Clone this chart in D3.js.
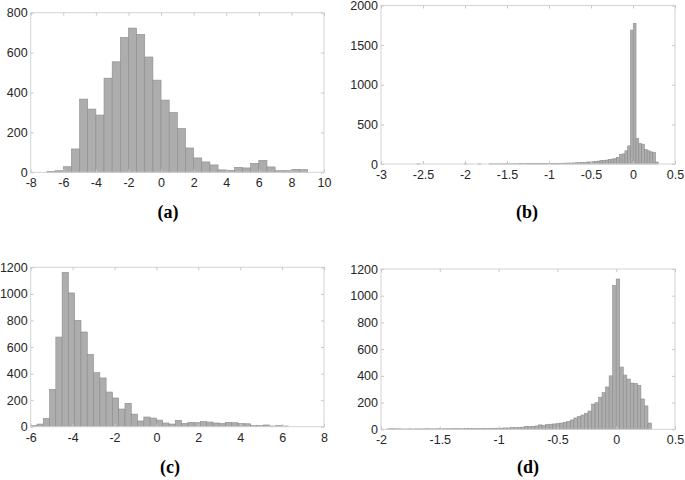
<!DOCTYPE html>
<html>
<head>
<meta charset="utf-8">
<script src="https://cdn.jsdelivr.net/npm/d3@7"></script>
<style>
  body { margin: 0; background: #fff; }
  svg { display: block; }
</style>
</head>
<body>
<svg width="685" height="480"></svg>
<script>
// (a) bins of 0.5 starting at -7
const aStart = -7, aWidth = 0.5;
const aCounts = [5, 8, 28, 117, 367, 317, 287, 472, 554, 676, 723, 691, 578, 462, 362, 300,
  220, 122, 72, 52, 37, 12, 10, 25, 22, 45, 60, 27, 8, 8, 15, 13];

// (b) bins of 0.033 starting at -3
const bStart = -3, bWidth = 0.033;
const bCounts = [0, 0, 0, 0, 0, 0, 0, 0, 0, 0, 0, 0, 0, 2, 0, 0, 0, 0, 0, 0,
  0, 0, 0, 0, 0, 0, 0, 0, 0, 0, 2, 0, 0, 0, 0, 2, 0, 0, 0, 2,
  1, 1, 2, 1, 2, 3, 2, 3, 3, 3, 4, 3, 4, 5, 4, 5, 5, 6, 5, 6,
  6, 7, 8, 8, 9, 10, 11, 12, 12, 13, 16, 17, 20, 21, 25, 25, 29, 33, 37, 42,
  45, 50, 58, 62, 67, 83, 121, 128, 167, 229, 1690, 1775, 321, 258, 250, 183, 167, 154, 148, 25];

// (c) bins of 0.3 starting at -6
const cStart = -6, cWidth = 0.3;
const cCounts = [8, 20, 63, 281, 675, 1162, 1007, 801, 713, 545, 407, 367, 261, 216, 133, 176,
  95, 43, 73, 65, 50, 28, 20, 48, 25, 33, 30, 40, 35, 28, 25, 33, 30, 25, 22, 8,
  8, 13, 5, 8, 5];

// (d) bins of 0.03 starting at -1.95
const dStart = -1.95, dWidth = 0.03;
const dCounts = [3, 4, 3, 3, 2, 2, 3, 2, 3, 3, 3, 4, 3, 3, 4, 3, 4, 4, 4, 5,
  4, 4, 5, 5, 5, 5, 5, 6, 6, 7, 8, 8, 9, 10, 10, 12, 12, 13, 16, 22,
  20, 22, 25, 33, 30, 35, 38, 40, 43, 47, 52, 60, 70, 85, 95, 107, 120, 137, 189, 199,
  240, 274, 317, 400, 1075, 1125, 466, 406, 376, 346, 344, 329, 227, 175, 47];

const aXTicks = [-8, -6, -4, -2, 0, 2, 4, 6, 8, 10];
const aYTicks = [0, 200, 400, 600, 800];
const bXTicks = [-3, -2.5, -2, -1.5, -1, -0.5, 0, 0.5];
const bYTicks = [0, 500, 1000, 1500, 2000];
const cXTicks = [-6, -4, -2, 0, 2, 4, 6, 8];
const cYTicks = [0, 200, 400, 600, 800, 1000, 1200];
const dXTicks = [-2, -1.5, -1, -0.5, 0, 0.5];
const dYTicks = [0, 200, 400, 600, 800, 1000, 1200];

const panelLabels = ["(a)", "(b)", "(c)", "(d)"];

const svg = d3.select("svg");

const panels = [
  {box: [30.7, 12.7, 324, 172.3], xd: [-8, 10], yd: [0, 800], xt: aXTicks, yt: aYTicks,
   start: aStart, width: aWidth, counts: aCounts, label: [168, 218]},
  {box: [381, 5.5, 675, 164], xd: [-3, 0.5], yd: [0, 2000], xt: bXTicks, yt: bYTicks,
   start: bStart, width: bWidth, counts: bCounts, label: [527, 218]},
  {box: [30.7, 267.3, 324, 426.7], xd: [-6, 8], yd: [0, 1200], xt: cXTicks, yt: cYTicks,
   start: cStart, width: cWidth, counts: cCounts, label: [170, 473]},
  {box: [381, 269, 675, 429.3], xd: [-2, 0.5], yd: [0, 1200], xt: dXTicks, yt: dYTicks,
   start: dStart, width: dWidth, counts: dCounts, label: [528, 473]}
];

const fmt = d => String(d);

panels.forEach((p, pi) => {
  const [x0, y0, x1, y1] = p.box;
  const x = d3.scaleLinear().domain(p.xd).range([x0, x1]);
  const y = d3.scaleLinear().domain(p.yd).range([y1, y0]);
  const g = svg.append("g");

  const bins = p.counts.map((c, i) => ({lo: p.start + i * p.width, hi: p.start + (i + 1) * p.width, c}));

  g.append("g").selectAll("rect")
    .data(bins.filter(b => b.c > 0))
    .join("rect")
      .attr("x", b => x(b.lo))
      .attr("width", b => x(b.hi) - x(b.lo))
      .attr("y", b => y(b.c))
      .attr("height", b => y(0) - y(b.c))
      .attr("fill", "#adadad")
      .attr("stroke", "#8c8c8c")
      .attr("stroke-width", 0.6);

  // box
  g.append("rect")
    .attr("x", x0).attr("y", y0)
    .attr("width", x1 - x0).attr("height", y1 - y0)
    .attr("fill", "none")
    .attr("stroke", "#d4d4d4")
    .attr("stroke-width", 1);

  const tl = 3;
  const axisX = g.append("g").attr("transform", `translate(0,${y1})`)
    .call(d3.axisBottom(x).tickValues(p.xt).tickFormat(fmt).tickSize(-tl).tickPadding(6));
  const axisXTop = g.append("g").attr("transform", `translate(0,${y0})`)
    .call(d3.axisTop(x).tickValues(p.xt).tickFormat("").tickSize(-tl));
  const axisY = g.append("g").attr("transform", `translate(${x0},0)`)
    .call(d3.axisLeft(y).tickValues(p.yt).tickFormat(fmt).tickSize(-tl).tickPadding(3));
  const axisYRight = g.append("g").attr("transform", `translate(${x1},0)`)
    .call(d3.axisRight(y).tickValues(p.yt).tickFormat("").tickSize(-tl));

  [axisX, axisXTop, axisY, axisYRight].forEach(a => {
    a.select(".domain").remove();
    a.selectAll(".tick line").attr("stroke", "#c8c8c8");
    a.selectAll("text")
      .attr("fill", "#262626")
      .style("font-family", "'Liberation Sans', Arial, Helvetica, sans-serif")
      .style("font-size", "12.5px");
  });

  svg.append("text")
    .attr("x", p.label[0]).attr("y", p.label[1])
    .attr("text-anchor", "middle")
    .style("font-family", "'Liberation Serif', 'Times New Roman', serif")
    .style("font-weight", "bold")
    .style("font-size", "18px")
    .attr("fill", "#000")
    .text(panelLabels[pi]);
});
</script>
</body>
</html>
